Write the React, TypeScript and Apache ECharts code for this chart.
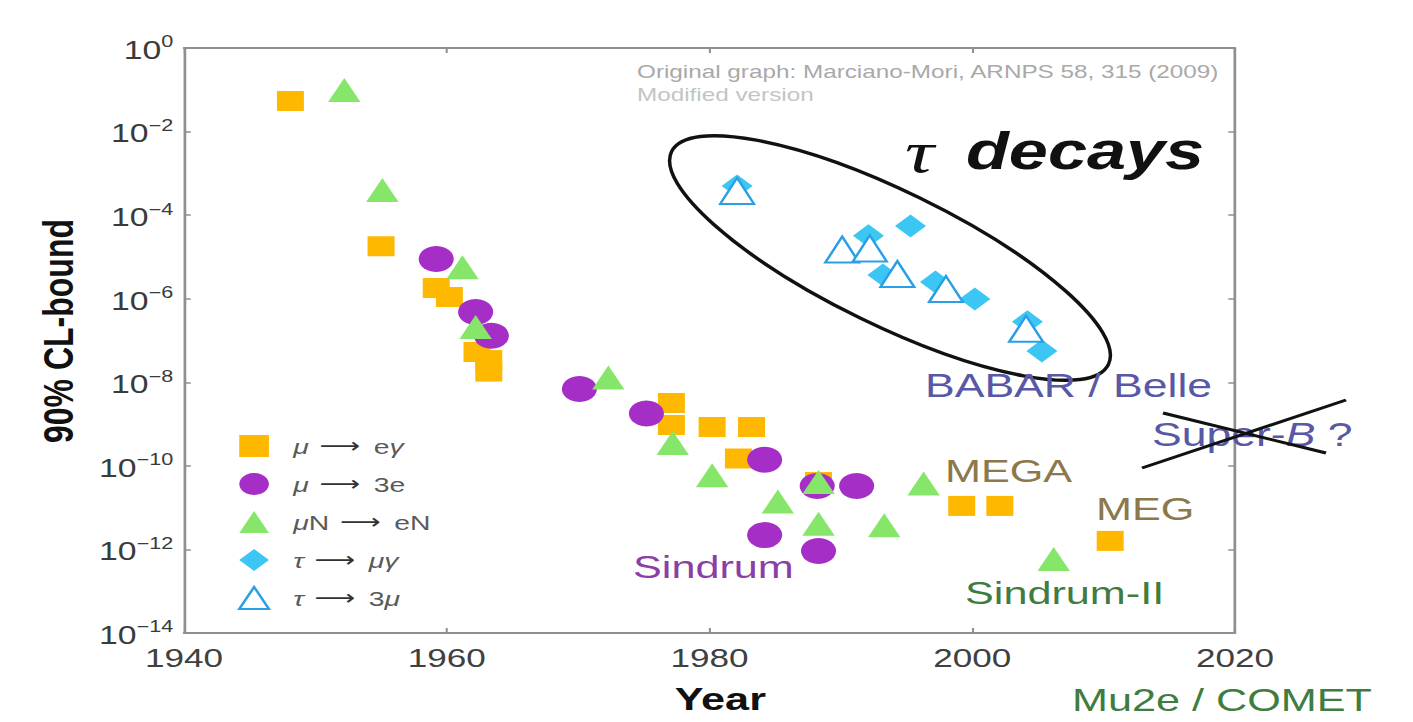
import React, { useEffect, useRef } from 'react';
import * as echarts from 'echarts';

// The figure is laid out on a narrower canvas and widened horizontally.
const PAGE_W = 1413;
const PAGE_H = 722;
const BASE_W = 1047;
const SX = PAGE_W / BASE_W;
const FONT = '"Liberation Sans", Arial, Helvetica, sans-serif';

// μ → eγ
const muEgYears = [1948.1, 1955.0, 1959.2, 1960.2, 1962.3, 1963.2, 1963.2, 1977.1, 1977.1, 1980.2, 1983.2, 1982.2, 1988.3, 1999.2, 2002.1, 2010.5];
const muEgBounds = [5.4e-2, 1.8e-5, 1.8e-6, 1.1e-6, 5.3e-8, 3.4e-8, 1.8e-8, 3.2e-9, 9.5e-10, 8.5e-10, 8.5e-10, 1.5e-10, 4.1e-11, 1.1e-11, 1.1e-11, 1.6e-12];

// μ → 3e
const mu3eYears = [1959.2, 1962.2, 1963.4, 1970.1, 1975.2, 1984.2, 1988.2, 1991.2, 1984.2, 1988.3];
const mu3eBounds = [8.9e-6, 4.8e-7, 1.3e-7, 6.9e-9, 1.8e-9, 1.4e-10, 3.3e-11, 3.3e-11, 2.2e-12, 9.2e-13];

// μN → eN
const muNeNYears = [1952.2, 1955.1, 1961.2, 1962.2, 1972.3, 1977.2, 1980.2, 1985.2, 1988.3, 1988.3, 1993.3, 1996.3, 2006.2];
const muNeNBounds = [9.9e-2, 4.0e-4, 5.7e-6, 2.1e-7, 1.3e-8, 3.5e-10, 6.0e-11, 1.4e-11, 4.1e-11, 4.1e-12, 3.8e-12, 3.8e-11, 5.9e-13];

// τ → μγ
const tauMuGYears = [1982.1, 1992.1, 1995.3, 1993.2, 1997.2, 2000.2, 2004.2, 2005.3];
const tauMuGBounds = [5.0e-4, 3.2e-5, 5.5e-5, 3.7e-6, 2.5e-6, 9.8e-7, 2.8e-7, 5.6e-8];

// τ → 3μ
const tau3MuYears = [1982.1, 1990.1, 1992.2, 1994.3, 1998.0, 2004.1];
const tau3MuBounds = [3.8e-4, 1.5e-5, 1.6e-5, 3.9e-6, 1.7e-6, 1.9e-7];

const yearTicks = [1940, 1960, 1980, 2000, 2020];
const seriesNames = ['μ → eγ', 'μ → 3e', 'μN → eN', 'τ → μγ', 'τ → 3μ'];
const legendLabels: Record<string, string> = {
  'μ → eγ': '{i|μ}{ar|⟶}e{i|γ}',
  'μ → 3e': '{i|μ}{ar|⟶}3e',
  'μN → eN': '{i|μ}N{ar|⟶}eN',
  'τ → μγ': '{i|τ}{ar|⟶}{i|μγ}',
  'τ → 3μ': '{i|τ}{ar|⟶}3{i|μ}',
};

const pairs = (xs: number[], ys: number[]) => xs.map((x, i) => [x, ys[i]]);

// positions below are given on the widened page and brought back to the base canvas
const px = (x: number) => x / SX;

function label(text: string, x: number, y: number, size: number, fill: string, extra: any = {}) {
  return {
    type: 'text',
    x: px(x),
    y,
    z: 50,
    style: {
      text,
      fill,
      fontSize: size,
      fontFamily: FONT,
      align: 'left',
      textAlign: 'left',
      verticalAlign: 'middle',
      textVerticalAlign: 'middle',
      ...extra,
    },
  };
}

function buildOption() {
  const axisLineStyle = { color: '#8f8f8f', width: 2 };
  const tickStyle = { show: true, inside: true, length: 5, lineStyle: { color: '#8f8f8f', width: 1.5 } };

  return {
    animation: false,
    backgroundColor: '#ffffff',
    grid: {
      left: px(184),
      top: 48,
      width: px(1235) - px(184),
      height: 585,
      outerBoundsMode: 'none',
    },
    legend: {
      data: seriesNames,
      orient: 'vertical',
      left: px(246) - 11,
      top: 429,
      itemWidth: 22,
      itemHeight: 22,
      itemGap: 14,
      selectedMode: false,
      formatter: (name: string) => legendLabels[name],
      textStyle: {
        fontFamily: FONT,
        fontSize: 21,
        color: '#5a5a5a',
        lineHeight: 24,
        padding: [0, 0, 0, 13],
        rich: {
          i: { fontStyle: 'italic', fontSize: 21, color: '#5a5a5a', lineHeight: 24 },
          ar: { fontFamily: '"DejaVu Sans", sans-serif', fontSize: 21, color: '#333', lineHeight: 24, padding: [0, 10, 0, 8] },
        },
      },
    },
    xAxis: [
      {
        type: 'value',
        min: yearTicks[0],
        max: yearTicks[yearTicks.length - 1],
        interval: 20,
        name: 'Year',
        nameLocation: 'middle',
        nameGap: 50,
        nameTextStyle: { fontFamily: FONT, fontSize: 32, fontWeight: 'bold', color: '#111', padding: [0, 0, 0, 16] },
        axisLine: { show: true, lineStyle: axisLineStyle },
        axisTick: tickStyle,
        splitLine: { show: false },
        axisLabel: {
          margin: 12,
          fontFamily: FONT,
          fontSize: 26,
          color: '#404040',
          formatter: (v: number) => String(v),
        },
      },
      {
        type: 'value',
        position: 'top',
        min: yearTicks[0],
        max: yearTicks[yearTicks.length - 1],
        interval: 20,
        axisLine: { show: true, lineStyle: axisLineStyle },
        axisTick: tickStyle,
        axisLabel: { show: false },
        splitLine: { show: false },
      },
    ],
    yAxis: [
      {
        type: 'log',
        logBase: 10,
        min: 1e-14,
        max: 1,
        interval: 2,
        name: '90% CL-bound',
        nameLocation: 'middle',
        nameGap: 77,
        nameTextStyle: { fontFamily: FONT, fontSize: 32, fontWeight: 'bold', color: '#111', padding: [0, 0, 0, 19] },
        axisLine: { show: true, lineStyle: axisLineStyle },
        axisTick: tickStyle,
        splitLine: { show: false },
        axisLabel: {
          margin: 8,
          formatter: (v: number) => {
            const e = Math.round(Math.log10(v));
            return `{b|10}{s|${e === 0 ? '0' : '−' + Math.abs(e)}}`;
          },
          rich: {
            b: { fontFamily: FONT, fontSize: 25, color: '#3a3a3a', padding: [4, 0, 0, 0] },
            s: { fontFamily: FONT, fontSize: 16, color: '#3a3a3a', padding: [0, 0, 12, 0] },
          },
        },
      },
      {
        type: 'log',
        logBase: 10,
        position: 'right',
        min: 1e-14,
        max: 1,
        interval: 2,
        axisLine: { show: true, lineStyle: axisLineStyle },
        axisTick: tickStyle,
        axisLabel: { show: false },
        splitLine: { show: false },
      },
    ],
    series: [
      {
        type: 'scatter',
        name: seriesNames[0],
        data: pairs(muEgYears, muEgBounds),
        symbol: 'rect',
        symbolSize: [20, 20],
        itemStyle: { color: '#ffb800', opacity: 1 },
        z: 2,
      },
      {
        type: 'scatter',
        name: seriesNames[1],
        data: pairs(mu3eYears, mu3eBounds),
        symbol: 'circle',
        symbolSize: [26, 26],
        itemStyle: { color: '#a52fc6', opacity: 1 },
        z: 3,
      },
      {
        type: 'scatter',
        name: seriesNames[2],
        data: pairs(muNeNYears, muNeNBounds),
        symbol: 'triangle',
        symbolSize: [24, 24],
        itemStyle: { color: '#86e66a', opacity: 1 },
        z: 4,
      },
      {
        type: 'scatter',
        name: seriesNames[3],
        data: pairs(tauMuGYears, tauMuGBounds),
        symbol: 'diamond',
        symbolSize: [23, 23],
        itemStyle: { color: '#3cc6f4', opacity: 1 },
        z: 5,
      },
      {
        type: 'scatter',
        name: seriesNames[4],
        data: pairs(tau3MuYears, tau3MuBounds),
        symbol: 'triangle',
        symbolSize: [25, 26],
        itemStyle: { color: '#ffffff', borderColor: '#2a9fe6', borderWidth: 2, opacity: 1 },
        z: 6,
      },
    ],
    graphic: [
      label('Original graph: Marciano-Mori, ARNPS 58, 315 (2009)', 637, 72, 18, '#a9a9a9'),
      label('Modified version', 637, 95, 18, '#c4c4c4'),
      label('τ', 905, 151, 60, '#111', { fontFamily: '"Liberation Serif", "DejaVu Serif", serif', fontStyle: 'italic' }),
      label('decays', 966, 151, 52, '#111', { fontWeight: 'bold', fontStyle: 'italic' }),
      label('BABAR / Belle', 925, 386, 33, '#5858a6'),
      {
        type: 'text',
        x: px(1152),
        y: 435,
        z: 50,
        style: {
          text: '{n|Super-}{b|B}{n| ?}',
          align: 'left',
          textAlign: 'left',
          verticalAlign: 'middle',
          textVerticalAlign: 'middle',
          rich: {
            n: { fontFamily: FONT, fontSize: 33, fill: '#5858a6', color: '#5858a6' },
            b: { fontFamily: FONT, fontSize: 33, fontStyle: 'italic', fill: '#5858a6', color: '#5858a6' },
          },
        },
      },
      label('MEGA', 945, 471, 32, '#8c784a'),
      label('MEG', 1096, 509, 32, '#8c784a'),
      label('Sindrum', 633, 567, 32, '#8a3fa6'),
      label('Sindrum-II', 965, 593, 32, '#3f7d3f'),
      label('Mu2e / COMET', 1072, 700, 32, '#3f7d3f'),
      {
        type: 'line',
        z: 60,
        shape: { x1: px(1142), y1: 468, x2: px(1346), y2: 400 },
        style: { stroke: '#111', lineWidth: 3 },
      },
      {
        type: 'line',
        z: 60,
        shape: { x1: px(1163), y1: 413, x2: px(1326), y2: 453 },
        style: { stroke: '#111', lineWidth: 3 },
      },
      {
        // the loop round the τ results, drawn in page units and narrowed with the canvas
        type: 'group',
        x: 0,
        y: 0,
        scaleX: 1 / SX,
        z: 40,
        children: [
          {
            type: 'ellipse',
            x: 890,
            y: 258,
            rotation: (-26 * Math.PI) / 180,
            shape: { cx: 0, cy: 0, rx: 243, ry: 67 },
            style: { fill: 'none', stroke: '#111', lineWidth: 3.5 },
          },
        ],
      },
    ],
  };
}

export default function App() {
  const ref = useRef<HTMLDivElement>(null);

  useEffect(() => {
    if (!ref.current) return;
    const chart = echarts.init(ref.current, null, { renderer: 'svg' });
    chart.setOption(buildOption() as any);
    return () => chart.dispose();
  }, []);

  return (
    <div
      ref={ref}
      style={{
        position: 'fixed',
        left: 0,
        top: 0,
        width: BASE_W,
        height: PAGE_H,
        transform: `scaleX(${SX})`,
        transformOrigin: '0 0',
        background: '#ffffff',
      }}
    />
  );
}
